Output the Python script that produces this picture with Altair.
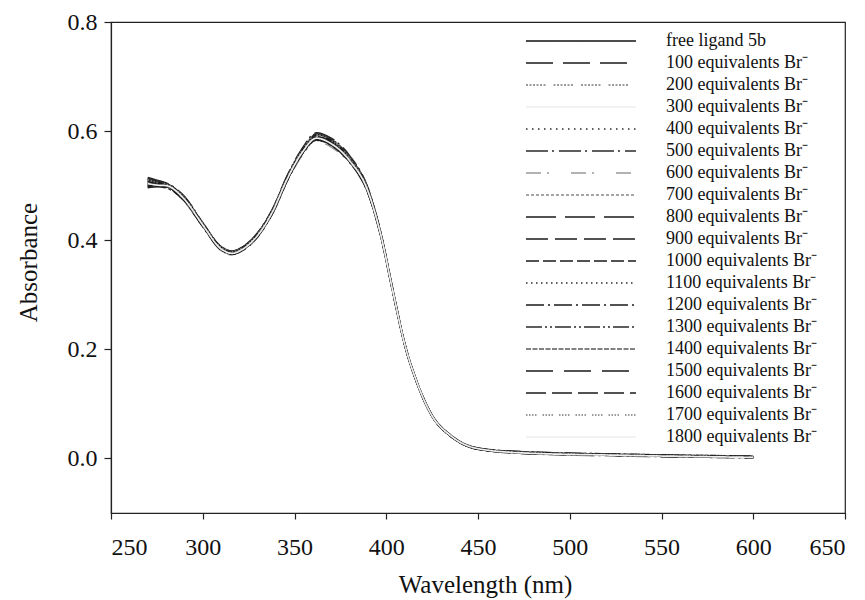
import altair as alt
import pandas as pd

# ---------------- data ----------------
wavelengths = [270, 275, 280, 290, 300, 310, 316, 322, 330, 338, 346, 354, 362,
               370, 380, 390, 397, 404, 410, 417, 425, 435, 450, 475, 525, 600]

series_names = [
    "free ligand 5b",
    "100 equivalents Br⁻", "200 equivalents Br⁻", "300 equivalents Br⁻",
    "400 equivalents Br⁻", "500 equivalents Br⁻", "600 equivalents Br⁻",
    "700 equivalents Br⁻", "800 equivalents Br⁻", "900 equivalents Br⁻",
    "1000 equivalents Br⁻", "1100 equivalents Br⁻", "1200 equivalents Br⁻",
    "1300 equivalents Br⁻", "1400 equivalents Br⁻", "1500 equivalents Br⁻",
    "1600 equivalents Br⁻", "1700 equivalents Br⁻", "1800 equivalents Br⁻",
]

abs_free = [0.505,0.503,0.500,0.475,0.428,0.385,0.377,0.385,0.410,0.452,0.512,0.560,0.588,0.578,0.547,0.490,0.410,0.300,0.210,0.137,0.078,0.042,0.018,0.010,0.006,0.002]
abs_100  = [0.512,0.508,0.503,0.478,0.430,0.387,0.379,0.387,0.413,0.456,0.516,0.565,0.594,0.584,0.552,0.494,0.413,0.302,0.211,0.137,0.078,0.042,0.018,0.011,0.007,0.003]
abs_200  = [0.498,0.500,0.497,0.472,0.425,0.382,0.374,0.382,0.407,0.449,0.508,0.556,0.583,0.573,0.543,0.487,0.408,0.298,0.209,0.136,0.077,0.041,0.017,0.010,0.006,0.002]
abs_300  = [0.508,0.506,0.502,0.477,0.429,0.386,0.378,0.386,0.411,0.454,0.514,0.562,0.590,0.580,0.549,0.492,0.411,0.301,0.210,0.137,0.078,0.042,0.018,0.010,0.006,0.002]
abs_400  = [0.502,0.504,0.499,0.474,0.427,0.384,0.376,0.384,0.409,0.451,0.511,0.559,0.586,0.576,0.545,0.489,0.409,0.299,0.209,0.136,0.077,0.041,0.018,0.011,0.007,0.003]
abs_500  = [0.515,0.510,0.505,0.480,0.432,0.388,0.380,0.388,0.414,0.457,0.518,0.567,0.597,0.587,0.555,0.496,0.414,0.303,0.212,0.138,0.079,0.043,0.019,0.012,0.008,0.004]
abs_600  = [0.496,0.499,0.496,0.471,0.424,0.381,0.373,0.381,0.406,0.448,0.507,0.555,0.581,0.571,0.541,0.486,0.407,0.297,0.208,0.135,0.077,0.041,0.017,0.009,0.005,0.001]
abs_700  = [0.506,0.502,0.501,0.476,0.428,0.385,0.377,0.385,0.410,0.453,0.513,0.561,0.589,0.579,0.548,0.491,0.410,0.300,0.210,0.137,0.078,0.042,0.018,0.010,0.006,0.002]
abs_800  = [0.510,0.507,0.504,0.479,0.431,0.387,0.379,0.387,0.412,0.455,0.515,0.564,0.592,0.582,0.551,0.493,0.412,0.301,0.211,0.137,0.078,0.042,0.018,0.011,0.007,0.003]
abs_900  = [0.500,0.501,0.498,0.473,0.426,0.383,0.375,0.383,0.408,0.450,0.510,0.558,0.585,0.575,0.544,0.488,0.409,0.299,0.209,0.136,0.077,0.041,0.017,0.010,0.006,0.002]
abs_1000 = [0.503,0.505,0.500,0.475,0.428,0.385,0.377,0.385,0.410,0.452,0.512,0.561,0.588,0.578,0.547,0.490,0.410,0.300,0.210,0.137,0.078,0.042,0.018,0.011,0.007,0.003]
abs_1100 = [0.509,0.504,0.502,0.477,0.430,0.386,0.378,0.386,0.411,0.454,0.514,0.563,0.591,0.581,0.550,0.492,0.411,0.301,0.210,0.137,0.078,0.042,0.018,0.010,0.006,0.002]
abs_1200 = [0.497,0.498,0.496,0.472,0.425,0.382,0.374,0.382,0.407,0.449,0.509,0.557,0.584,0.574,0.543,0.487,0.408,0.298,0.209,0.136,0.077,0.041,0.017,0.009,0.005,0.001]
abs_1300 = [0.513,0.509,0.504,0.479,0.431,0.388,0.380,0.388,0.413,0.456,0.517,0.566,0.595,0.585,0.553,0.495,0.413,0.302,0.211,0.138,0.079,0.043,0.019,0.012,0.008,0.004]
abs_1400 = [0.501,0.503,0.499,0.474,0.427,0.384,0.376,0.384,0.409,0.451,0.511,0.559,0.587,0.577,0.546,0.489,0.409,0.299,0.209,0.136,0.077,0.041,0.017,0.010,0.006,0.002]
abs_1500 = [0.507,0.505,0.501,0.476,0.429,0.385,0.377,0.385,0.410,0.453,0.513,0.562,0.590,0.580,0.548,0.491,0.410,0.300,0.210,0.137,0.078,0.042,0.018,0.011,0.007,0.003]
abs_1600 = [0.499,0.502,0.498,0.473,0.426,0.383,0.375,0.383,0.408,0.450,0.510,0.558,0.585,0.575,0.545,0.488,0.409,0.299,0.209,0.136,0.077,0.041,0.017,0.010,0.006,0.002]
abs_1700 = [0.511,0.506,0.503,0.478,0.430,0.387,0.379,0.387,0.412,0.455,0.515,0.564,0.593,0.583,0.551,0.493,0.412,0.301,0.211,0.137,0.078,0.042,0.018,0.011,0.007,0.003]
abs_1800 = [0.504,0.501,0.500,0.475,0.428,0.384,0.376,0.384,0.409,0.452,0.512,0.560,0.587,0.577,0.546,0.490,0.410,0.300,0.210,0.137,0.078,0.042,0.018,0.010,0.006,0.002]

all_series = [abs_free, abs_100, abs_200, abs_300, abs_400, abs_500, abs_600,
              abs_700, abs_800, abs_900, abs_1000, abs_1100, abs_1200, abs_1300,
              abs_1400, abs_1500, abs_1600, abs_1700, abs_1800]

x_ticks = [250, 300, 350, 400, 450, 500, 550, 600, 650]
y_ticks = [0.0, 0.2, 0.4, 0.6, 0.8]

# line styles (one per series)
dash_patterns = [
    [1, 0],
    [27, 10],
    [2, 1.5, 2, 1.5, 2, 1.5, 2, 1.5, 2, 1.5, 2, 8],
    [1, 0],
    [1.5, 4.5],
    [22, 4, 2, 5],
    [15, 6, 2, 22],
    [3, 2],
    [30, 9],
    [22, 7],
    [13, 4],
    [1.5, 3.5],
    [18, 4, 2, 4],
    [16, 3, 2, 3, 2, 3],
    [5, 1.5],
    [27, 11],
    [20, 6],
    [1.5, 1.5, 1.5, 1.5, 1.5, 1.5, 1.5, 6],
    [1, 0],
]
line_colors = [
    "#111111", "#1a1a1a", "#7a7a7a", "#eeeeee", "#2a2a2a", "#2a2a2a",
    "#999999", "#888888", "#1a1a1a", "#1a1a1a", "#1a1a1a", "#2a2a2a",
    "#1a1a1a", "#2a2a2a", "#5a5a5a", "#1a1a1a", "#1a1a1a", "#7a7a7a", "#eeeeee",
]

rows = []
for name, vals in zip(series_names, all_series):
    for w, a in zip(wavelengths, vals):
        rows.append({"series": name, "wavelength": w, "absorbance": a})
df = pd.DataFrame(rows)

FONT = "Liberation Serif"

legend = alt.Legend(
    title=None, orient="none", legendX=414, legendY=8,
    symbolType="stroke", symbolSize=12100, symbolStrokeWidth=1.3,
    clipHeight=22, labelFont=FONT, labelFontSize=18, labelColor="#111111",
    labelOffset=29, padding=0, rowPadding=0, labelLimit=400,
)

chart = alt.Chart(df).mark_line(strokeWidth=1.7, interpolate="monotone").encode(
    x=alt.X("wavelength:Q",
            scale=alt.Scale(domain=[250, 650], nice=False, zero=False),
            axis=alt.Axis(values=x_ticks, title="Wavelength (nm)", format="d",
                          tickSize=6, labelPadding=16, titleX=374, titleY=71,
                          titleBaseline="middle", titleAlign="center")),
    y=alt.Y("absorbance:Q",
            scale=alt.Scale(domain=[-0.1, 0.8], nice=False, zero=False),
            axis=alt.Axis(values=y_ticks, format=".1f", title="Absorbance",
                          tickSize=7, labelPadding=7, titleX=-83, titleY=240,
                          titleAngle=-90, titleBaseline="middle", titleAlign="center")),
    color=alt.Color("series:N", sort=series_names,
                    scale=alt.Scale(domain=series_names, range=line_colors),
                    legend=legend),
    strokeDash=alt.StrokeDash("series:N", sort=series_names,
                              scale=alt.Scale(domain=series_names, range=dash_patterns),
                              legend=legend),
).properties(
    width=734, height=491,
    autosize=alt.AutoSizeParams(type="none"),
    padding={"left": 111, "top": 22, "right": 20, "bottom": 87},
).configure_view(
    stroke="#222222", strokeWidth=1.2
).configure_axis(
    labelFont=FONT, labelFontSize=24, labelColor="#111111",
    titleFont=FONT, titleFontSize=25, titleFontWeight="normal", titleColor="#111111",
    domainColor="#222222", tickColor="#222222", domainWidth=1.2, tickWidth=1.2,
    grid=False,
)

chart.save("out.html", embed_options={"renderer": "svg", "actions": False})
